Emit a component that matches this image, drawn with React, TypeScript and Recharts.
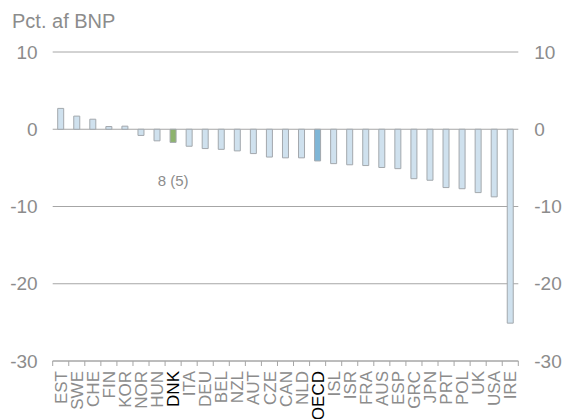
import { Bar, BarChart, CartesianGrid, Cell, ReferenceDot, XAxis, YAxis } from "recharts"

const countries = [
  "EST", "SWE", "CHE", "FIN", "KOR", "NOR", "HUN", "DNK", "ITA", "DEU",
  "BEL", "NZL", "AUT", "CZE", "CAN", "NLD", "OECD", "ISL", "ISR", "FRA",
  "AUS", "ESP", "GRC", "JPN", "PRT", "POL", "UK", "USA", "IRE",
]

const balance = [
  2.7, 1.7, 1.3, 0.35, 0.4, -0.8, -1.5, -1.7, -2.2, -2.5,
  -2.6, -2.8, -3.15, -3.6, -3.7, -3.7, -4.1, -4.45, -4.6, -4.7,
  -4.95, -5.1, -6.4, -6.6, -7.55, -7.7, -8.2, -8.75, -25.1,
]

const yTicks = [-30, -20, -10, 0, 10]
const highlight = ["DNK", "OECD"]
const rankLabel = "8 (5)"

const data = countries.map((c, i) => ({ country: c, value: balance[i], mirror: balance[i] }))

const grey = "#8c8c8c"
const font = "'Liberation Sans', Arial, sans-serif"

function barColor(c: string) {
  if (c === "DNK") return "#8db36d"
  if (c === "OECD") return "#7fb6d6"
  return "#cfe1ee"
}

function CountryTick(props: any) {
  const { x, y, payload, index } = props
  const half = payload.offset ?? 8
  const isHi = highlight.includes(payload.value)
  return (
    <g>
      <line x1={x - half} x2={x - half} y1={y} y2={y + 5} stroke="#a6a6a6" />
      {index === countries.length - 1 && (
        <line x1={x + half} x2={x + half} y1={y} y2={y + 5} stroke="#a6a6a6" />
      )}
      <text
        x={x}
        y={y + 10}
        transform={`rotate(-90, ${x}, ${y + 10})`}
        textAnchor="end"
        dy="0.36em"
        fontSize={17}
        fontFamily={font}
        fill={isHi ? "#000" : grey}
      >
        {payload.value}
      </text>
    </g>
  )
}

export default function App() {
  return (
    <div style={{ position: "relative", width: 567, height: 419, fontFamily: font }}>
      <style>{`html, body { margin: 0; overflow: hidden; }`}</style>
      <div style={{ position: "absolute", left: 12, top: 11, fontSize: 20, lineHeight: "20px", color: grey }}>
        Pct. af BNP
      </div>
      <BarChart
        width={567}
        height={419}
        data={data}
        margin={{ top: 52, right: 0, bottom: 0, left: 0 }}
        barSize={6}
        barGap={-6}
      >
        <CartesianGrid vertical={false} stroke="#a6a6a6" yAxisId="left" />
        <XAxis
          dataKey="country"
          interval={0}
          height={58}
          tickLine={false}
          tickSize={0}
          tickMargin={0}
          axisLine={{ stroke: "#a6a6a6" }}
          tick={<CountryTick />}
        />
        <YAxis
          yAxisId="left"
          domain={[-30, 10]}
          ticks={yTicks}
          width={52.7}
          axisLine={false}
          tickLine={false}
          tickMargin={9}
          tick={{ fill: grey, fontSize: 19, fontFamily: font }}
        />
        <YAxis
          yAxisId="right"
          orientation="right"
          domain={[-30, 10]}
          ticks={yTicks}
          width={48.7}
          axisLine={false}
          tickLine={false}
          tickMargin={10}
          tick={{ fill: grey, fontSize: 19, fontFamily: font }}
        />
        <Bar yAxisId="left" dataKey="value" stroke="#a3a8ad" strokeWidth={1} isAnimationActive={false}>
          {data.map((d) => (
            <Cell key={d.country} fill={barColor(d.country)} />
          ))}
        </Bar>
        <Bar yAxisId="right" dataKey="mirror" fill="none" stroke="none" isAnimationActive={false} legendType="none" />
        <ReferenceDot
          yAxisId="left"
          x="DNK"
          y={-6.7}
          r={0}
          stroke="none"
          label={{ value: rankLabel, position: "center", fill: grey, fontSize: 15, fontFamily: font }}
        />
      </BarChart>
    </div>
  )
}
